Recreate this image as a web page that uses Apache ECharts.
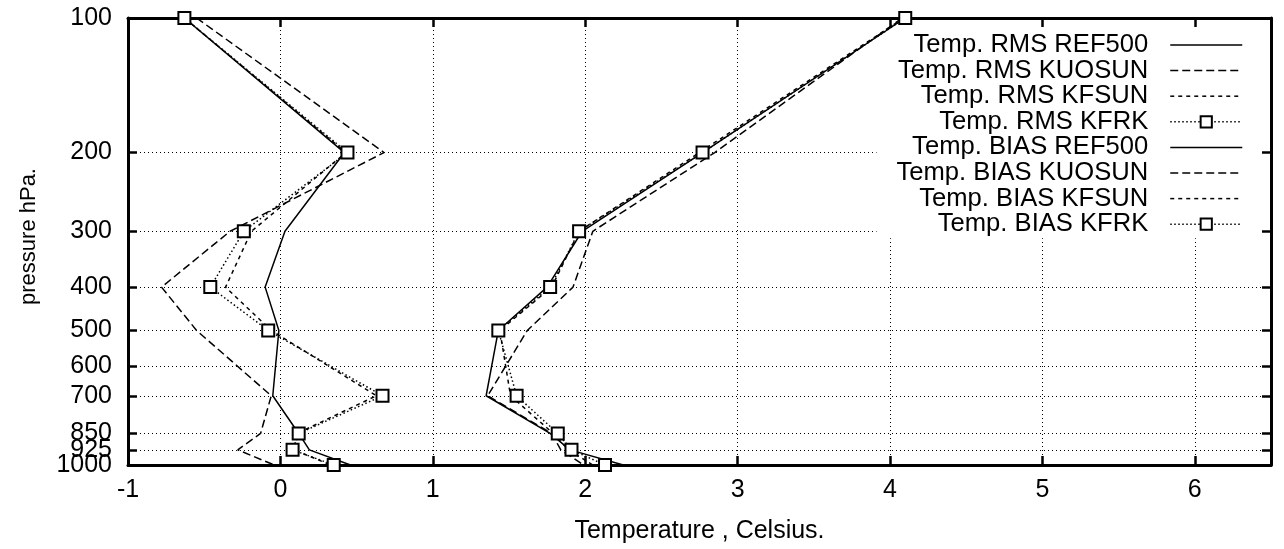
<!DOCTYPE html>
<html>
<head>
<meta charset="utf-8">
<title>Temperature RMS / BIAS</title>
<script src="https://cdn.jsdelivr.net/npm/echarts@6/dist/echarts.min.js"></script>
<style>
  html, body { margin: 0; padding: 0; background: #fff; }
  #chart { width: 1284px; height: 549px; }
</style>
</head>
<body>
<div id="chart"></div>
<script>
// pressure levels (hPa) of the profiles
const levels = [100, 200, 300, 400, 500, 700, 850, 925, 1000]
const pressureTicks = [100, 200, 300, 400, 500, 600, 700, 850, 925, 1000]
// 925 sits on top of 850 / 1000, so its label gets an axis of its own
const pressureLabels = [100, 200, 300, 400, 500, 600, 700, 850, 1000]
const crowdedLabels = [925]

// RMS profiles (Celsius)
const rmsRef500 = [4.10, 2.77, 1.98, 1.75, 1.43, 1.35, 1.77, 1.90, 2.25]
const rmsKuosun = [4.08, 2.85, 2.05, 1.92, 1.62, 1.36, 1.78, 1.84, 1.99]
const rmsKfsun = [4.09, 2.75, 1.96, 1.78, 1.44, 1.51, 1.79, 1.89, 2.05]
const rmsKfrk = [4.10, 2.77, 1.96, 1.77, 1.43, 1.55, 1.82, 1.91, 2.13]

// BIAS profiles (Celsius)
const biasRef500 = [-0.63, 0.42, 0.03, -0.10, -0.01, -0.05, 0.12, 0.19, 0.46]
const biasKuosun = [-0.55, 0.68, -0.33, -0.78, -0.55, -0.06, -0.13, -0.28, -0.04]
const biasKfsun = [-0.63, 0.43, -0.19, -0.36, -0.06, 0.63, 0.11, 0.09, 0.33]
const biasKfrk = [-0.63, 0.44, -0.24, -0.46, -0.08, 0.67, 0.12, 0.08, 0.35]

const FONT = "'Liberation Sans', Arial, sans-serif"
const DASH_LONG = [8, 4]
const DASH_SHORT = [4, 4]
const DOTS = [1.5, 2.5]

const toPoints = (values) => values.map((v, i) => [v, levels[i]])

const makeSeries = (name, values, dash, marker) => ({
  name: name,
  type: 'line',
  data: toPoints(values),
  symbol: marker ? 'emptyRect' : 'none',
  symbolSize: 12,
  showSymbol: !!marker,
  silent: true,
  animation: false,
  itemStyle: { color: '#000', borderWidth: 1.5 },
  lineStyle: { color: '#000', width: 1.5, type: dash }
})

const series = [
  makeSeries('Temp. RMS REF500', rmsRef500, 'solid', false),
  makeSeries('Temp. RMS KUOSUN', rmsKuosun, DASH_LONG, false),
  makeSeries('Temp. RMS KFSUN', rmsKfsun, DASH_SHORT, false),
  makeSeries('Temp. RMS KFRK', rmsKfrk, DOTS, true),
  makeSeries('Temp. BIAS REF500', biasRef500, 'solid', false),
  makeSeries('Temp. BIAS KUOSUN', biasKuosun, DASH_LONG, false),
  makeSeries('Temp. BIAS KFSUN', biasKfsun, DASH_SHORT, false),
  makeSeries('Temp. BIAS KFRK', biasKfrk, DOTS, true)
]

const axisLine = { show: true, onZero: false, lineStyle: { color: '#000', width: 3 } }
const axisTick = { show: true, inside: true, length: 9, lineStyle: { color: '#000', width: 2.5 } }
const gridLine = { show: true, lineStyle: { color: '#000', width: 1, type: [1, 3] } }
const yLabel = {
  fontFamily: FONT, fontSize: 25, color: '#000', margin: 16,
  showMinLabel: true, showMaxLabel: true, hideOverlap: false,
  formatter: v => String(Math.round(v))
}

const xBase = { type: 'value', min: -1, max: 6.5, interval: 1 }
const yBase = { type: 'log', logBase: 10, min: 100, max: 1000, inverse: true }

const option = {
  backgroundColor: '#fff',
  animation: false,
  grid: { left: 128, right: 13, top: 18, bottom: 84 },
  legend: {
    orient: 'vertical',
    right: 22,
    top: 28,
    align: 'right',
    itemWidth: 72,
    itemHeight: 14,
    itemGap: -0.4,
    padding: [4, 19, 1, 20],
    backgroundColor: '#fff',
    selectedMode: false,
    lineStyle: { width: 1.5 },
    textStyle: { fontFamily: FONT, fontSize: 25.6, color: '#000', padding: [0, 17, 0, 0] },
    data: series.map(s => ({
      name: s.name,
      itemStyle: s.symbol === 'none' ? { opacity: 0 } : { borderWidth: 1.5 }
    })),
    z: 1
  },
  xAxis: [
    Object.assign({}, xBase, {
      position: 'bottom',
      name: 'Temperature , Celsius.',
      nameLocation: 'middle',
      nameGap: 54,
      nameTextStyle: { fontFamily: FONT, fontSize: 25, color: '#000' },
      axisLine: axisLine,
      axisTick: axisTick,
      axisLabel: { fontFamily: FONT, fontSize: 25, color: '#000', margin: 13, showMaxLabel: false },
      splitLine: gridLine
    }),
    Object.assign({}, xBase, {
      position: 'top',
      axisLine: axisLine,
      axisTick: axisTick,
      axisLabel: { show: false },
      splitLine: { show: false }
    })
  ],
  yAxis: [
    Object.assign({}, yBase, {
      position: 'left',
      name: 'pressure hPa.',
      nameLocation: 'middle',
      nameGap: 88,
      nameTextStyle: { fontFamily: FONT, fontSize: 22, color: '#000', padding: [0, 0, 0, 10] },
      axisLine: axisLine,
      axisTick: Object.assign({}, axisTick, { customValues: pressureTicks }),
      axisLabel: Object.assign({}, yLabel, { customValues: pressureLabels }),
      splitLine: gridLine
    }),
    Object.assign({}, yBase, {
      position: 'right',
      axisLine: axisLine,
      axisTick: Object.assign({}, axisTick, { customValues: pressureTicks }),
      axisLabel: { show: false, customValues: pressureTicks },
      splitLine: { show: false }
    }),
    Object.assign({}, yBase, {
      position: 'left',
      axisLine: { show: false },
      axisTick: { show: false },
      axisLabel: Object.assign({}, yLabel, { customValues: crowdedLabels }),
      splitLine: { show: false }
    })
  ],
  series: series
}

const chart = echarts.init(document.getElementById('chart'), null, { renderer: 'canvas' })
chart.setOption(option)
</script>
</body>
</html>
